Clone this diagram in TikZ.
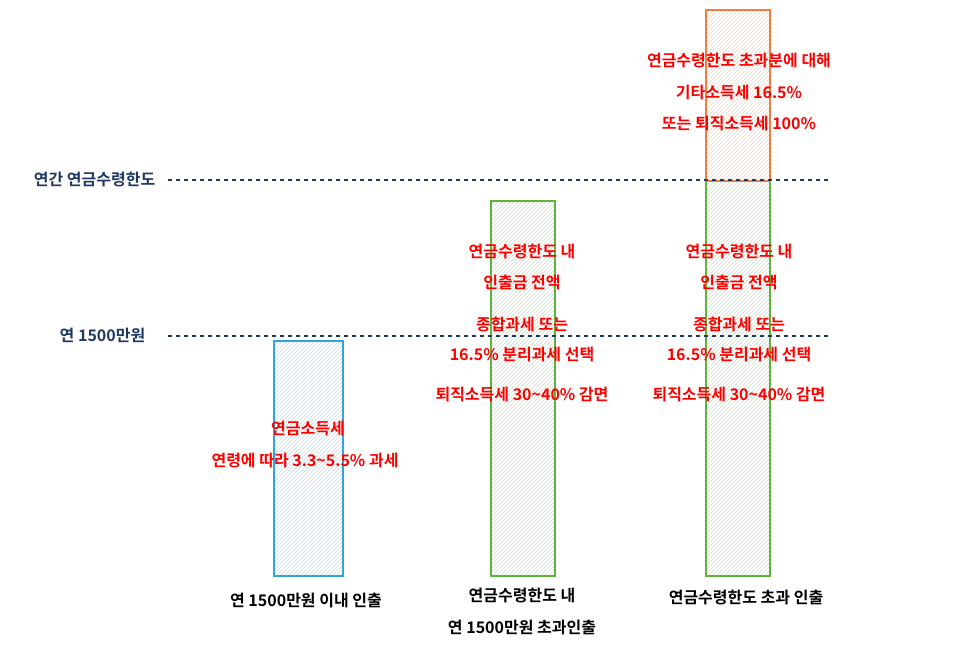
\documentclass[tikz,border=0pt]{standalone}
\usepackage{fontspec}
\setmainfont{Noto Sans CJK KR}[BoldFont={Noto Sans CJK KR Bold}]
\usetikzlibrary{patterns}
\definecolor{navy}{HTML}{1F3864}
\definecolor{rd}{HTML}{FF0000}
\definecolor{bl}{HTML}{2EA6DA}
\definecolor{gr}{HTML}{5DB33C}
\definecolor{og}{HTML}{F07F3C}
\tikzset{
 bar/.style={draw=#1, line width=1.3pt, pattern=north east lines, pattern color=#1!35},
 red/.style={text=rd, font=\bfseries\fontsize{12}{14}\selectfont, align=center},
 blk/.style={text=black, font=\bfseries\fontsize{12}{14}\selectfont, align=center},
 nv/.style={text=navy, font=\bfseries\fontsize{12}{14}\selectfont},
 ref/.style={navy, dashed, line width=0.9pt}
}
\begin{document}
\begin{tikzpicture}[x=0.75pt,y=-0.75pt]
\useasboundingbox (0,0) rectangle (966,648);
\draw[bar=bl] (274,341) rectangle (343,576);
\draw[bar=gr] (491,201) rectangle (555,576);
\draw[bar=gr] (706,181) rectangle (770,576);
\draw[bar=og] (706,10) rectangle (770,181);
\coordinate (a1) at (168,180); \coordinate (a2) at (828,180);
\coordinate (b1) at (168,336); \coordinate (b2) at (828,336);
\draw[ref] (a1) -- (a2);
\draw[ref] (b1) -- (b2);
\node[nv, anchor=east] (la) at (160,180) {연간 연금수령한도};
\node[nv, anchor=east] (lb) at (150,335) {연 1500만원};
\node[red] (t1a) at (308,429) {연금소득세};
\node[red] (t1b) at (305,461) {연령에 따라 3.3\char`~5.5\% 과세};
\node[red] (t2a) at (522,252) {연금수령한도 내};
\node[red] (t2b) at (522,283) {인출금 전액};
\node[red] (t2c) at (522,324) {종합과세 또는};
\node[red] (t2d) at (522,355) {16.5\% 분리과세 선택};
\node[red] (t2e) at (522,395) {퇴직소득세 30\char`~40\% 감면};
\node[red] (t3a) at (739,252) {연금수령한도 내};
\node[red] (t3b) at (739,283) {인출금 전액};
\node[red] (t3c) at (739,324) {종합과세 또는};
\node[red] (t3d) at (739,355) {16.5\% 분리과세 선택};
\node[red] (t3e) at (739,395) {퇴직소득세 30\char`~40\% 감면};
\node[red] (t4a) at (739,61) {연금수령한도 초과분에 대해};
\node[red] (t4b) at (739,93) {기타소득세 16.5\%};
\node[red] (t4c) at (739,124) {또는 퇴직소득세 100\%};
\node[blk] (c1) at (306,601) {연 1500만원 이내 인출};
\node[blk] (c2a) at (522,596) {연금수령한도 내};
\node[blk] (c2b) at (522,627) {연 1500만원 초과인출};
\node[blk] (c3) at (746,598) {연금수령한도 초과 인출};
\end{tikzpicture}
\end{document}
